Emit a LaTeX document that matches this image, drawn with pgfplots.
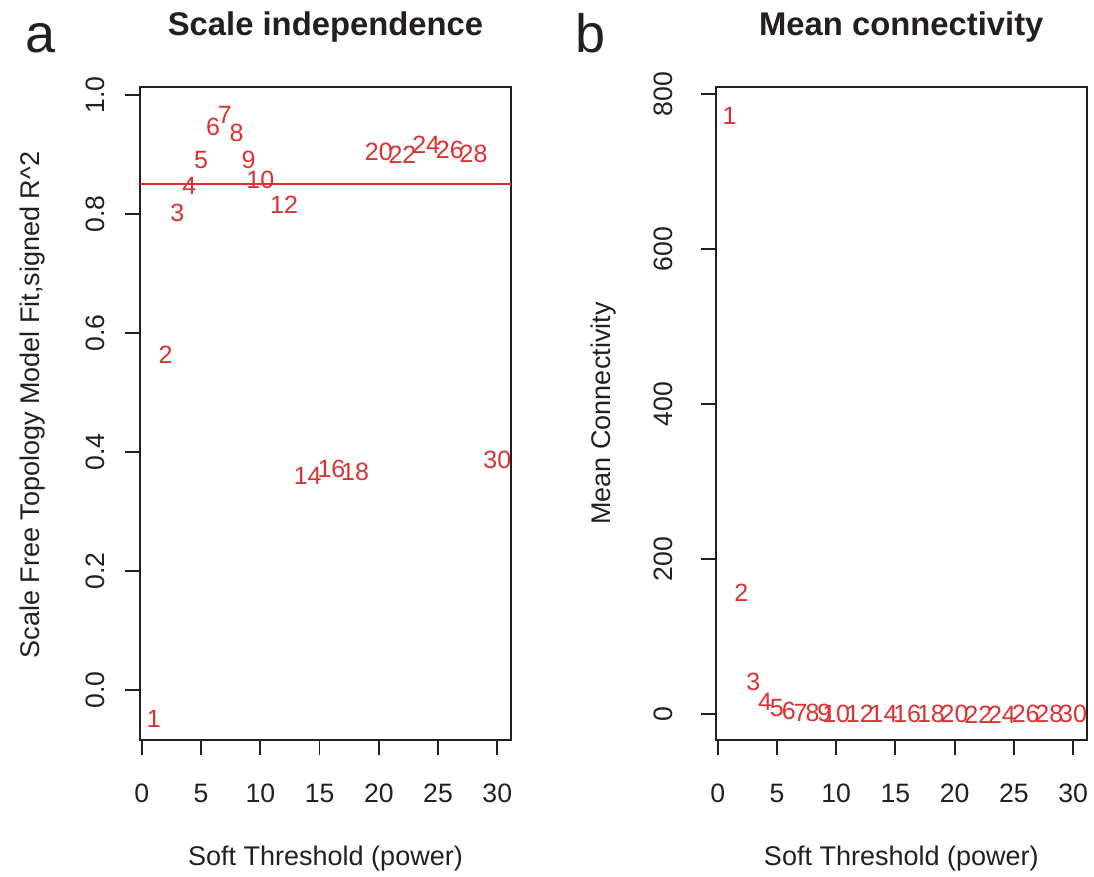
\documentclass[border=0pt]{standalone}
\usepackage{fontspec}
\setmainfont{Liberation Sans}
\usepackage{pgfplots}
\pgfplotsset{compat=1.18}
\definecolor{rtext}{RGB}{222,48,48}
\definecolor{frame}{RGB}{35,31,32}

\pgfplotsset{rpanel/.style={
  scale only axis, width=185.5pt, height=326.5pt, anchor=south west,
  axis line style={frame, line width=1pt},
  tick style={frame, line width=0.9pt},
  major tick length=7.5pt, tick align=outside,
  xtick pos=bottom, ytick pos=left,
  xmin=-0.16, xmax=31.16, xtick={0,5,...,30},
  ticklabel style={font=\fontsize{13.3}{16}\selectfont, text=frame, inner sep=0pt},
  xticklabel style={anchor=north},
  yticklabel style={rotate=90, anchor=south},
  xticklabel shift=14.5pt,
  /pgf/number format/assume math mode=true,
  clip=false,
  label style={font=\fontsize{13.5}{16}\selectfont, text=frame},
  xlabel style={at={(axis description cs:0.5,-0.181)}, anchor=center},
  title style={at={(axis description cs:0.5,1.06)}, anchor=base,
    font=\bfseries\fontsize{16.4}{19}\selectfont, text=frame},
  xlabel={Soft Threshold (power)},
  pts/.style={draw=none, mark=none, nodes near coords, point meta=explicit symbolic,
    nodes near coords style={anchor=center, inner sep=0pt, text=rtext,
      font=\fontsize{12.5}{14}\selectfont}},
}}

\begin{document}
\begin{tikzpicture}
\path[use as bounding box] (0,0) rectangle (547pt,438.5pt);

% a: scale-free fit index
\begin{axis}[rpanel, at={(70pt,68.5pt)},
  ymin=-0.084, ymax=1.0134, ytick={0,0.2,0.4,0.6,0.8,1},
  yticklabel style={/pgf/number format/fixed, /pgf/number format/fixed zerofill,
    /pgf/number format/precision=1},
  yticklabel shift=10pt,
  title={Scale independence},
  ylabel={Scale Free Topology Model Fit,signed R\^{}2},
  ylabel style={at={(axis description cs:-0.291,0.513)}, anchor=center}]
\addplot[rtext, line width=0.8pt] coordinates {(-0.16,0.85) (31.16,0.85)};
\addplot[pts] table[x=p, y=r, meta=p] {
p r
1 -0.048
2 0.563
3 0.801
4 0.847
5 0.891
6 0.947
7 0.966
8 0.936
9 0.891
10 0.857
12 0.815
14 0.360
16 0.371
18 0.367
20 0.905
22 0.899
24 0.917
26 0.908
28 0.901
30 0.387
};
\end{axis}

% b: mean connectivity
\begin{axis}[rpanel, at={(357.9pt,68.5pt)},
  ymin=-33, ymax=809, ytick={0,200,...,800},
  yticklabel shift=14pt,
  title={Mean connectivity},
  ylabel={Mean Connectivity},
  ylabel style={at={(axis description cs:-0.304,0.5)}, anchor=center}]
\addplot[pts] table[x=p, y=k, meta=p] {
p k
1 772
2 157
3 42
4 16
5 8
6 4
7 2.5
8 1.8
9 1.3
10 1.0
12 0.6
14 0.4
16 0.3
18 0.2
20 0.15
22 0.1
24 0.08
26 0.06
28 0.05
30 0.04
};
\end{axis}

\node[anchor=base, font=\fontsize{27}{30}\selectfont, text=frame] at (20.5pt,412pt) {a};
\node[anchor=base, font=\fontsize{27}{30}\selectfont, text=frame] at (295.5pt,412pt) {b};
\end{tikzpicture}
\end{document}
